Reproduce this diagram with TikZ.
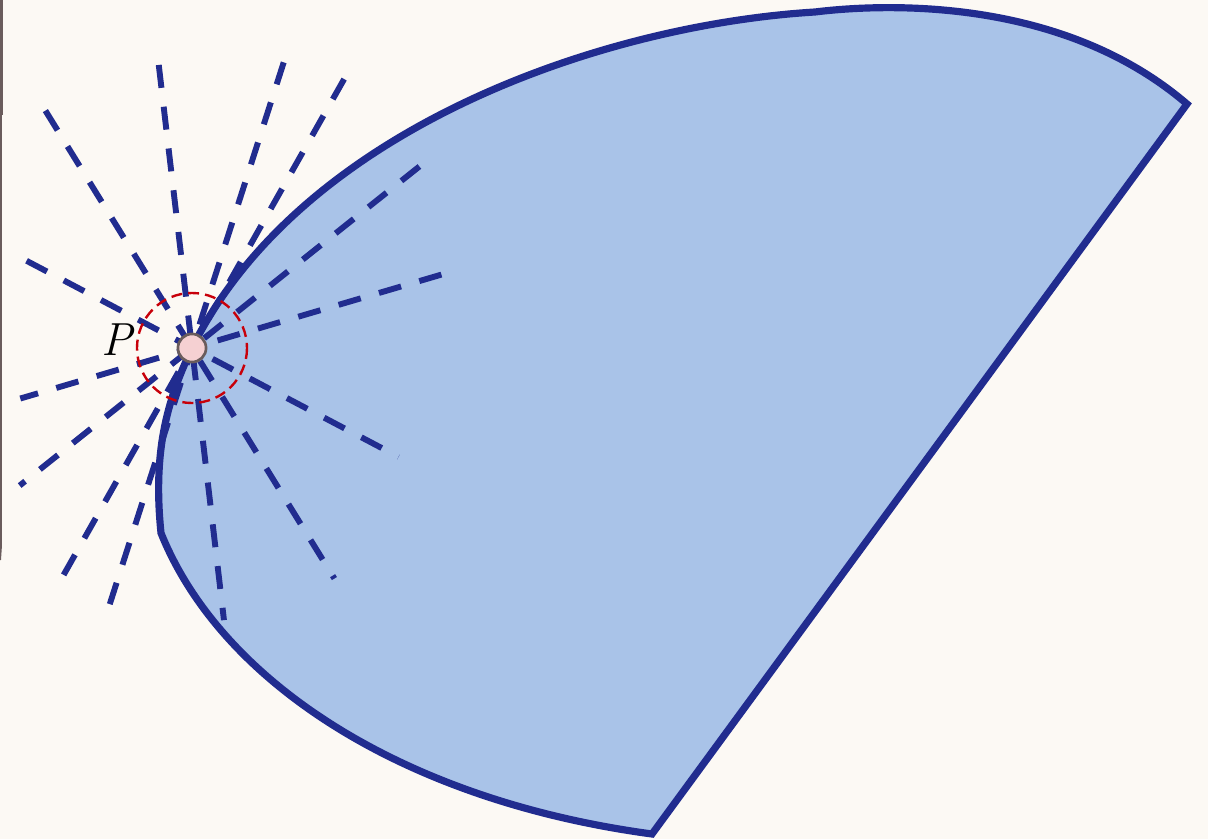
\documentclass[tikz,border=0pt]{standalone}
\usepackage{fontspec}
\usetikzlibrary{calc}
\definecolor{fondo}{HTML}{FCF9F4}
\definecolor{azul}{HTML}{212C8F}
\definecolor{relleno}{HTML}{A9C3E8}
\definecolor{rojo}{HTML}{C8000A}
\definecolor{rosa}{HTML}{F5D0D2}
\definecolor{gris}{HTML}{6A5C5C}
\tikzset{
	borde/.style={draw=azul, line width=5.1pt, fill=relleno, line join=miter},
	rayo/.style={draw=azul, line width=4.2pt, dash pattern=on 16.4pt off 13.5pt},
	entorno/.style={draw=rojo, line width=1.7pt, dash pattern=on 7.8pt off 4.3pt},
	punto/.style={circle, draw=gris, fill=rosa, line width=1.9pt, minimum size=20pt, inner sep=0pt}
}
\begin{document}
\begin{tikzpicture}[x=0.025cm, y=-0.025cm]

\fill[fondo] (0,0) rectangle (1208,839);
\useasboundingbox (0,0) rectangle (1208,839);

\coordinate (O) at (192,348);

% Borde izquierdo
\draw[gris, line width=2.2pt] (1,0) -- (1,115);
\draw[gris, line width=1.4pt] (1,115) -- (1,545) .. controls (1,552) .. (0,560);

% Region
\draw[borde] (O) .. controls (170,395) and (152,445) .. (161,533)
	.. controls (220,680) and (400,800) .. (652,834)
	-- (1187,104)
	.. controls (1060,-5) and (880,4) .. (815,12)
	.. controls (600,25) and (300,130) .. (O) -- cycle;

% Rectas por P
\foreach \a/\ra/\rb [count=\i, evaluate=\a as \b using \a+180] in {-96.7/285/274, -72.2/300/269, -60.5/309/261, -121.7/279/271, -38.6/291/220.5, -152.2/187/233.5, -16.4/260/179} {
	\coordinate (a\i) at ($(O)+(\a:\ra)$);
	\coordinate (b\i) at ($(O)+(\b:\rb)$);
	\draw[rayo] (a\i) -- (b\i);
}

% Entorno de P
\draw[entorno] (O) circle[radius=55];

\node[punto] (P) at (O) {};
\node[font=\fontsize{33}{33}\selectfont\itshape] (etiqueta) at (117,340) {P};

\end{tikzpicture}
\end{document}
